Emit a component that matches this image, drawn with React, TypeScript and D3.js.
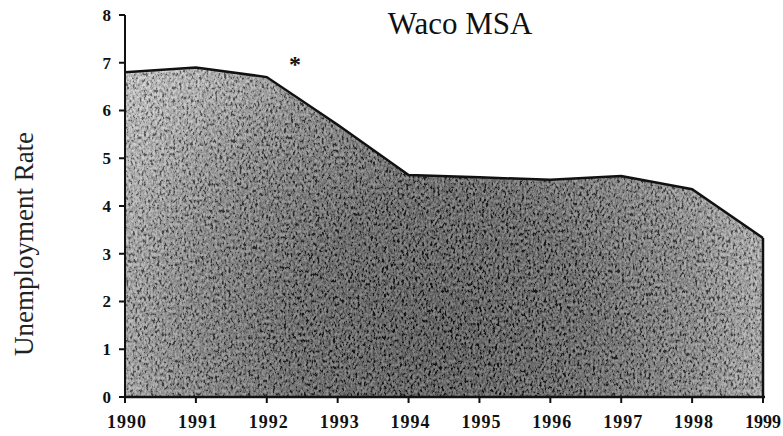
import React from "react";
import * as d3 from "d3";

const years = [1990, 1991, 1992, 1993, 1994, 1995, 1996, 1997, 1998, 1999];
const rates = [6.8, 6.9, 6.7, 5.7, 4.65, 4.6, 4.55, 4.63, 4.35, 3.33];
const yTicks = [0, 1, 2, 3, 4, 5, 6, 7, 8];
const title = "Waco MSA";
const yLabel = "Unemployment Rate";

export default function App() {
  const W = 783, H = 436;
  const x = d3.scaleLinear().domain([1990, 1999]).range([125, 763]);
  const y = d3.scaleLinear().domain([0, 8]).range([397, 15]);
  const data = years.map((yr, i) => ({ yr, v: rates[i] }));
  const area = d3.area<{ yr: number; v: number }>()
    .x(d => x(d.yr)).y0(y(0)).y1(d => y(d.v))(data) || "";
  const line = d3.line<{ yr: number; v: number }>()
    .x(d => x(d.yr)).y(d => y(d.v))(data) || "";
  const last = data[data.length - 1];
  const font = "'Liberation Serif', 'Times New Roman', serif";
  return (
    <svg width={W} height={H} style={{ position: "absolute", left: 0, top: 0, background: "#fff" }}>
      <defs>
        <radialGradient id="g" gradientUnits="userSpaceOnUse" cx={440} cy={340} r={420}>
          <stop offset="0" stopColor="#1c1c1c" />
          <stop offset="0.35" stopColor="#333" />
          <stop offset="0.62" stopColor="#666" />
          <stop offset="0.82" stopColor="#a0a0a0" />
          <stop offset="1" stopColor="#c4c4c4" />
        </radialGradient>
        <filter id="noise" filterUnits="userSpaceOnUse" x={120} y={50} width={650} height={350}>
          <feTurbulence type="fractalNoise" baseFrequency="0.45 0.3" numOctaves={3} seed={7} />
          <feColorMatrix type="matrix" values="0.33 0.33 0.33 0 0  0.33 0.33 0.33 0 0  0.33 0.33 0.33 0 0  0 0 0 0 1" />
          <feComponentTransfer>
            <feFuncR type="linear" slope={4.5} intercept={-1.75} />
            <feFuncG type="linear" slope={4.5} intercept={-1.75} />
            <feFuncB type="linear" slope={4.5} intercept={-1.75} />
          </feComponentTransfer>
        </filter>
        <clipPath id="clip">
          <path d={area} />
        </clipPath>
      </defs>
      <path d={area} fill="url(#g)" />
      <g clipPath="url(#clip)">
        <rect x={120} y={50} width={650} height={350} filter="url(#noise)" opacity={0.45} />
      </g>
      <path d={line} fill="none" stroke="#111" strokeWidth={2.5} />
      <line x1={x(last.yr)} x2={x(last.yr)} y1={y(last.v)} y2={y(0)} stroke="#111" strokeWidth={2.5} />
      <line x1={125} x2={125} y1={y(8)} y2={y(0)} stroke="#111" strokeWidth={2} />
      <line x1={125} x2={765} y1={y(0)} y2={y(0)} stroke="#111" strokeWidth={2.5} />
      {yTicks.map(t => (
        <g key={t}>
          <line x1={119} x2={125} y1={y(t)} y2={y(t)} stroke="#111" strokeWidth={2} />
          <text x={111} y={y(t)} dy="0.35em" textAnchor="end" fontFamily={font} fontWeight="bold" fontSize={17} fill="#111">{t}</text>
        </g>
      ))}
      {years.map((yr, i) => (
        <g key={yr}>
          <line x1={x(yr)} x2={x(yr)} y1={y(0)} y2={y(0) + 6} stroke="#111" strokeWidth={2} />
          <text x={i === years.length - 1 ? 781 : x(yr) + 2} y={428} textAnchor={i === years.length - 1 ? "end" : "middle"} fontFamily={font} fontWeight="bold" fontSize={18} letterSpacing={i === years.length - 1 ? 0 : 1} fill="#111">{yr}</text>
        </g>
      ))}
      <text x={460} y={34} textAnchor="middle" fontFamily={font} fontSize={31} fill="#111">{title}</text>
      <text x={295} y={72} textAnchor="middle" fontFamily={font} fontWeight="bold" fontSize={24} fill="#111">*</text>
      <text transform={`translate(33, 244) rotate(-90)`} textAnchor="middle" fontFamily={font} fontSize={27} fill="#222">{yLabel}</text>
    </svg>
  );
}
